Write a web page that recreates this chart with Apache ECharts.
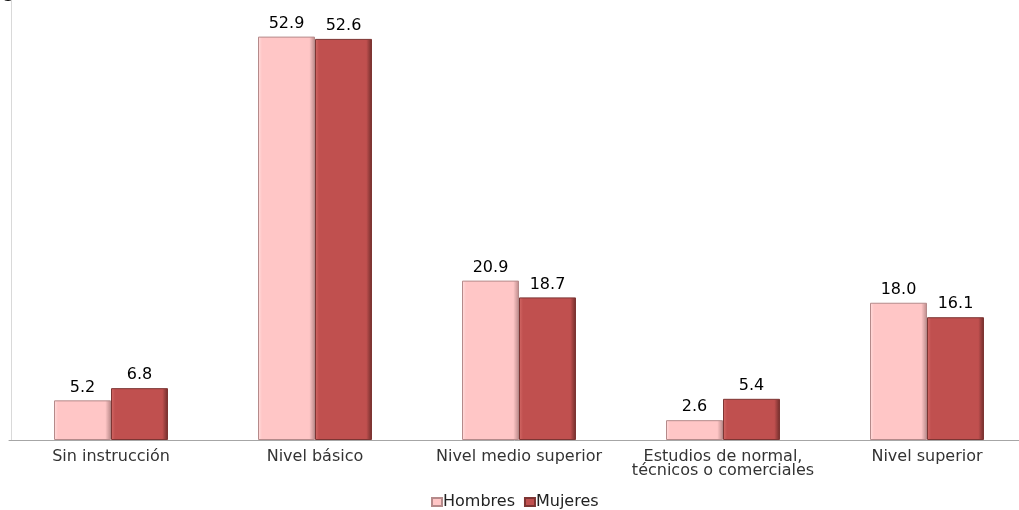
<!DOCTYPE html>
<html>
<head>
<meta charset="utf-8">
<script src="https://cdn.jsdelivr.net/npm/echarts@6/dist/echarts.min.js"></script>
<style>html,body{margin:0;padding:0;background:#fff;}#c{width:1019px;height:510px;}</style>
</head>
<body>
<div id="c"></div>
<script>
const categories = ["Sin instrucción", "Nivel básico", "Nivel medio superior", "Estudios de normal,\ntécnicos o comerciales", "Nivel superior"];
const hombres = [5.2, 52.9, 20.9, 2.6, 18.0];
const mujeres = [6.8, 52.6, 18.7, 5.4, 16.1];
const seriesNames = ["Hombres", "Mujeres"];

function bevel(light, base, dark) {
  return {
    type: 'linear', x: 0, y: 0, x2: 1, y2: 0,
    colorStops: [
      {offset: 0, color: light},
      {offset: 0.07, color: base},
      {offset: 0.9, color: base},
      {offset: 1, color: dark}
    ]
  };
}

const FONT = 'DejaVu Sans, Verdana, sans-serif';
const chart = echarts.init(document.getElementById('c'));
const labelStyle = {show: true, position: 'top', distance: 5, color: '#000', fontSize: 16, fontFamily: FONT, formatter: p => p.value.toFixed(1)};
chart.setOption({
  animation: false,
  textStyle: {fontFamily: FONT},
  graphic: [{type: 'text', left: 0, top: -21, style: {text: '6', font: 'bold 28px Liberation Sans, Arial, sans-serif', fill: '#000'}}],
  grid: {left: 9, top: 0, width: 1020, height: 440, containLabel: false, outerBoundsMode: 'none'},
  legend: {
    top: 489, left: 426, itemWidth: 10, itemHeight: 8, itemGap: 9, icon: 'rect',
    textStyle: {fontSize: 16, color: '#222', fontFamily: FONT, padding: [0,0,0,-4]},
    data: seriesNames
  },
  xAxis: {
    type: 'category', data: categories,
    axisLine: {lineStyle: {color: '#a6a6a6', width: 1}},
    axisTick: {show: false},
    axisLabel: {color: '#333', fontSize: 16, margin: 10, lineHeight: 14, interval: 0, fontFamily: FONT}
  },
  yAxis: {
    type: 'value', min: 0, max: 57.7, offset: -2,
    axisLine: {show: true, lineStyle: {color: '#d9d9d9'}}, axisTick: {show: false}, axisLabel: {show: false},
    splitLine: {show: false}
  },
  series: [
    {
      name: seriesNames[0], type: 'bar', data: hombres, barWidth: 57, barGap: '0%',
      itemStyle: {color: bevel('#ffdede', '#ffc6c6', '#b98888'), borderColor: '#b58a8a', borderWidth: 1},
      label: labelStyle
    },
    {
      name: seriesNames[1], type: 'bar', data: mujeres, barWidth: 57,
      itemStyle: {color: bevel('#d46a67', '#c0504f', '#6e2c2a'), borderColor: '#7d3533', borderWidth: 1},
      label: labelStyle
    }
  ]
});
</script>
</body>
</html>
